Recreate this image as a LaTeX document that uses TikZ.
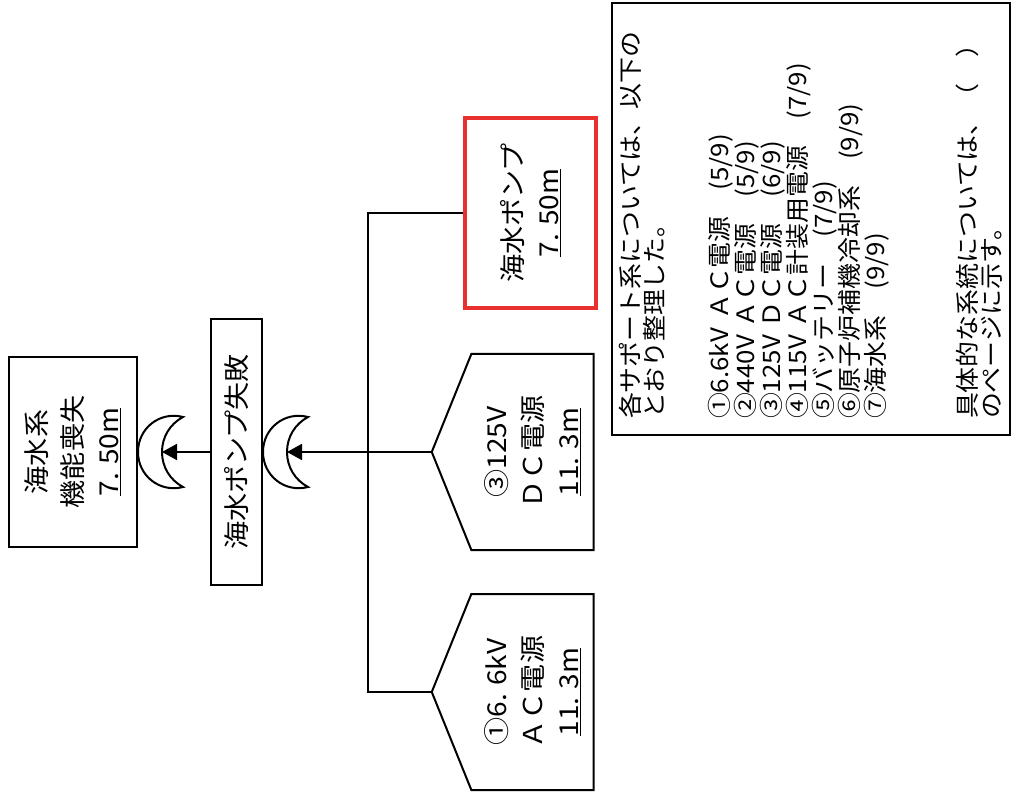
\documentclass[tikz,border=0pt]{standalone}
\usepackage{fontspec}
\setmainfont{Noto Sans CJK JP}[FakeStretch=1.08]
\usetikzlibrary{arrows.meta,shapes.symbols}
\definecolor{hl}{HTML}{E8302E}
\tikzset{
  eventbox/.style={draw, line width=2pt, rotate=90, align=center, inner sep=0pt,
    font=\fontsize{26pt}{36pt}\selectfont},
  housebox/.style={eventbox, shape=signal, signal to=north, signal pointer angle=136},
  orgate/.style={draw, line width=2pt},
  flow/.style={-{Triangle[length=15pt,width=16pt]}, line width=2pt},
  tree/.style={line width=2pt},
  notebox/.style={draw, line width=2pt, rotate=90, align=left, inner xsep=16pt,
    font=\fontsize{24pt}{24pt}\selectfont},
}
\lineskiplimit=-100pt

\begin{document}
\begin{tikzpicture}[x=1pt, y=-1pt]
\useasboundingbox (0,0) rectangle (1013,794);

% Top event and the pump failure under it.
\node[eventbox, minimum width=190pt, minimum height=128pt] (top) at (73,452)
  {海水系\\機能喪失\\\underline{7. 50m}};
\node[eventbox, minimum width=265pt, minimum height=51pt] (pumpfail) at (236.5,452) {海水ポンプ失敗};

% OR gates, drawn from their output point.
\begin{scope}[shift={(top.south)}]
  \draw[orgate] (45,-35) .. controls (22,-41) and (0,-24) .. (0,0)
    .. controls (0,24) and (22,41) .. (45,35)
    .. controls (32,28) and (24,15) .. (24,0)
    .. controls (24,-15) and (32,-28) .. (45,-35) -- cycle;
  \coordinate (g1in) at (24,0);
\end{scope}
\begin{scope}[shift={(pumpfail.south)}]
  \draw[orgate] (45,-35) .. controls (22,-41) and (0,-24) .. (0,0)
    .. controls (0,24) and (22,41) .. (45,35)
    .. controls (32,28) and (24,15) .. (24,0)
    .. controls (24,-15) and (32,-28) .. (45,-35) -- cycle;
  \coordinate (g2in) at (24,0);
\end{scope}

\draw[flow] (pumpfail.north) -- (g1in);

% Basic events.
\node[eventbox, draw=hl, line width=4pt, minimum width=190pt, minimum height=131pt] (pump) at (530.5,213)
  {海水ポンプ\\\underline{7. 50m}};
\node[housebox, minimum width=196pt, minimum height=145pt] (dc) at (532.5,452)
  {③125V\\ＤＣ電源\\\underline{11. 3m}};
\node[housebox, minimum width=196pt, minimum height=145pt] (ac) at (532.5,692)
  {①6. 6kV\\ＡＣ電源\\\underline{11. 3m}};

\coordinate (bus) at (368,452);
\draw[tree] (pump.north) -| (bus) |- (ac.north);
\draw[tree] (dc.north) -- (bus);
\draw[flow] (bus) -- (g2in);

% Note on the support systems.
\node[notebox, minimum width=432pt, minimum height=398pt, text width=400pt] (note) at (811,219) {%
  各サポート系については、以下の\\
  とおり整理した。\\[41pt]
  ①6.6kV ＡＣ電源　(5/9)\\
  ②440V ＡＣ電源　(5/9)\\
  ③125V ＤＣ電源　(6/9)\\
  ④115V ＡＣ計装用電源　(7/9)\\
  ⑤バッテリー　(7/9)\\
  ⑥原子炉補機冷却系　(9/9)\\
  ⑦海水系　(9/9)\\[66pt]
  具体的な系統については、（　）\\
  のページに示す。};

\end{tikzpicture}
\end{document}
